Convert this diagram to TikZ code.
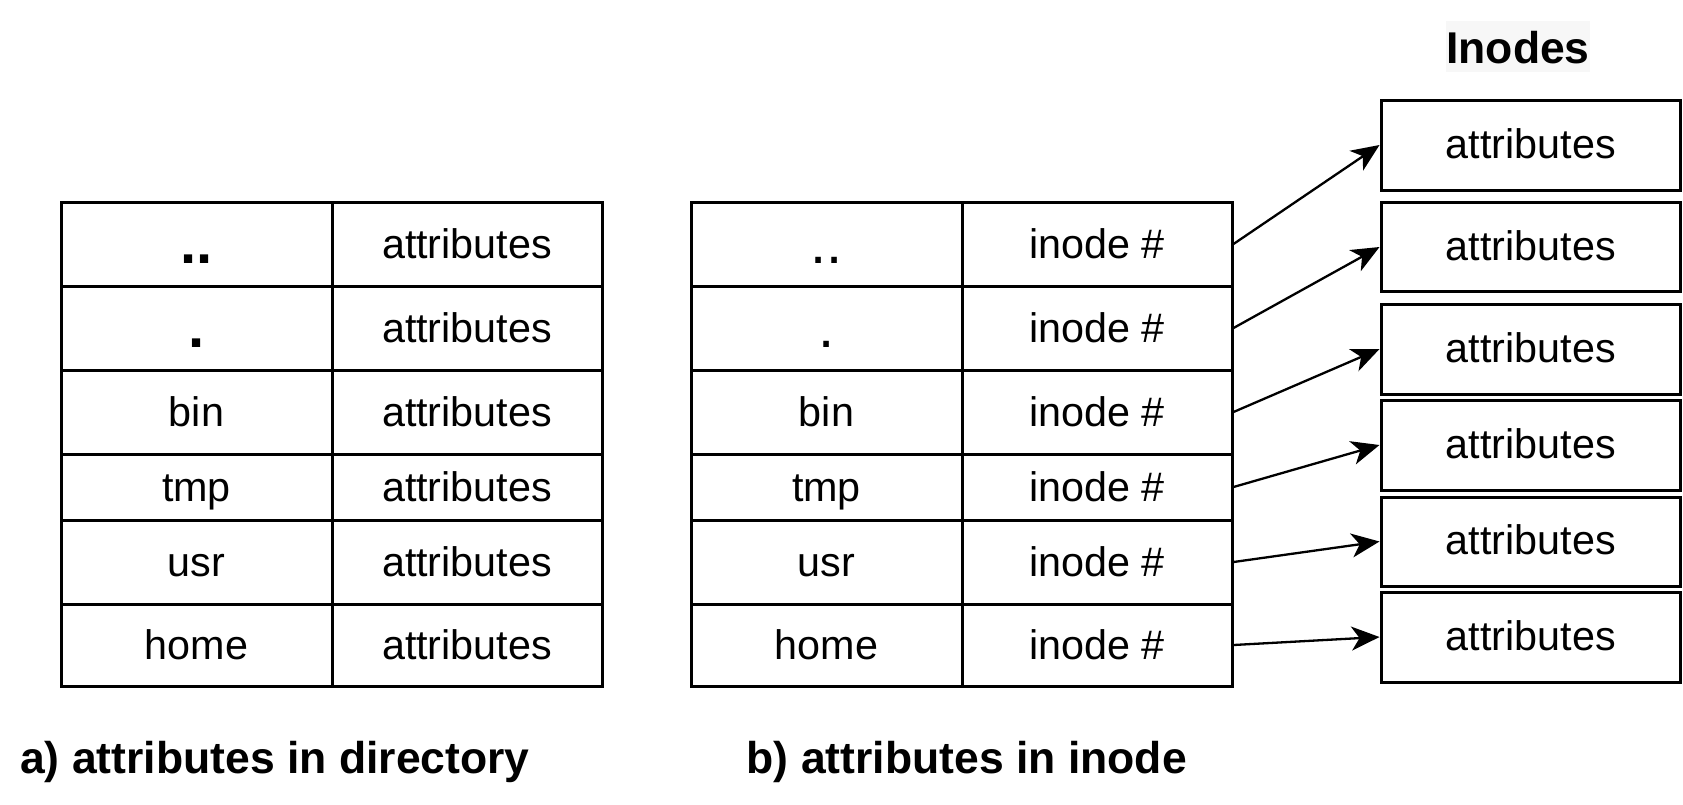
\documentclass[tikz,border=0pt]{standalone}
\usepackage{fontspec}
\setmainfont{Liberation Sans}
\usetikzlibrary{arrows.meta}
\tikzset{
  cell/.style={draw, line width=3pt, inner sep=0pt, anchor=center,
    text height=32pt, text depth=4pt,
    font=\fontsize{41.3}{50}\selectfont},
  colA/.style={cell, minimum width=271pt},
  colB/.style={cell, minimum width=270pt},
  dotsR/.style={font=\fontsize{58}{60}\selectfont, text height=40pt, text depth=2pt},
  dotsB/.style={font=\fontsize{58}{60}\selectfont\bfseries, text height=40pt, text depth=2pt},
  inodebox/.style={draw, line width=3pt, inner sep=0pt, anchor=center,
    minimum width=299.5pt, text height=30pt, text depth=4pt,
    font=\fontsize{41.3}{50}\selectfont},
  arr/.style={line width=2.3pt, -{Stealth[length=28pt, width=24pt, inset=8pt]}},
  caption/.style={anchor=base west, inner sep=0pt,
    font=\fontsize{44.5}{53}\selectfont\bfseries},
}
\begin{document}
\begin{tikzpicture}[x=1pt, y=-1pt]
\useasboundingbox (0,0) rectangle (1683,804);
% ---------- table a) ----------
\node[colA, minimum height=84pt, dotsB] (a1) at (196.5,244) {..};
\node[colB, minimum height=84pt] (a1b) at (467,244) {attributes};
\node[colA, minimum height=84pt, dotsB] (a2) at (196.5,328) {.};
\node[colB, minimum height=84pt] (a2b) at (467,328) {attributes};
\node[colA, minimum height=84pt] (a3) at (196.5,412) {bin};
\node[colB, minimum height=84pt] (a3b) at (467,412) {attributes};
\node[colA, minimum height=66pt] (a4) at (196.5,487) {tmp};
\node[colB, minimum height=66pt] (a4b) at (467,487) {attributes};
\node[colA, minimum height=84pt] (a5) at (196.5,562) {usr};
\node[colB, minimum height=84pt] (a5b) at (467,562) {attributes};
\node[colA, minimum height=82pt] (a6) at (196.5,645) {home};
\node[colB, minimum height=82pt] (a6b) at (467,645) {attributes};
% ---------- table b) ----------
\node[colA, minimum height=84pt, dotsR] (b1) at (826.5,244) {..};
\node[colB, minimum height=84pt] (b1b) at (1097,244) {inode \#};
\node[colA, minimum height=84pt, dotsR] (b2) at (826.5,328) {.};
\node[colB, minimum height=84pt] (b2b) at (1097,328) {inode \#};
\node[colA, minimum height=84pt] (b3) at (826.5,412) {bin};
\node[colB, minimum height=84pt] (b3b) at (1097,412) {inode \#};
\node[colA, minimum height=66pt] (b4) at (826.5,487) {tmp};
\node[colB, minimum height=66pt] (b4b) at (1097,487) {inode \#};
\node[colA, minimum height=84pt] (b5) at (826.5,562) {usr};
\node[colB, minimum height=84pt] (b5b) at (1097,562) {inode \#};
\node[colA, minimum height=82pt] (b6) at (826.5,645) {home};
\node[colB, minimum height=82pt] (b6b) at (1097,645) {inode \#};
% ---------- inodes ----------
\node[inner sep=0pt, anchor=base, fill=black!3, minimum width=144pt,
      text height=42pt, text depth=9pt,
      font=\fontsize{44.5}{53}\selectfont\bfseries] (ititle) at (1518,63) {Inodes};
\node[inodebox, minimum height=90pt] (i1) at (1530.75,145) {attributes};
\node[inodebox, minimum height=89pt] (i2) at (1530.75,247) {attributes};
\node[inodebox, minimum height=90pt] (i3) at (1530.75,349) {attributes};
\node[inodebox, minimum height=90pt] (i4) at (1530.75,445) {attributes};
\node[inodebox, minimum height=89pt] (i5) at (1530.75,541.5) {attributes};
\node[inodebox, minimum height=90pt] (i6) at (1530.75,637) {attributes};
% ---------- arrows ----------
\draw[arr] (b1b.east) -- (i1.west);
\draw[arr] (b2b.east) -- (i2.west);
\draw[arr] (b3b.east) -- (i3.west);
\draw[arr] (b4b.east) -- (i4.west);
\draw[arr] (b5b.east) -- (i5.west);
\draw[arr] (b6b.east) -- (i6.west);
% ---------- captions ----------
\node[caption] (capa) at (20,773) {a) attributes in directory};
\node[caption] (capb) at (746.5,773) {b) attributes in inode};
\end{tikzpicture}
\end{document}
